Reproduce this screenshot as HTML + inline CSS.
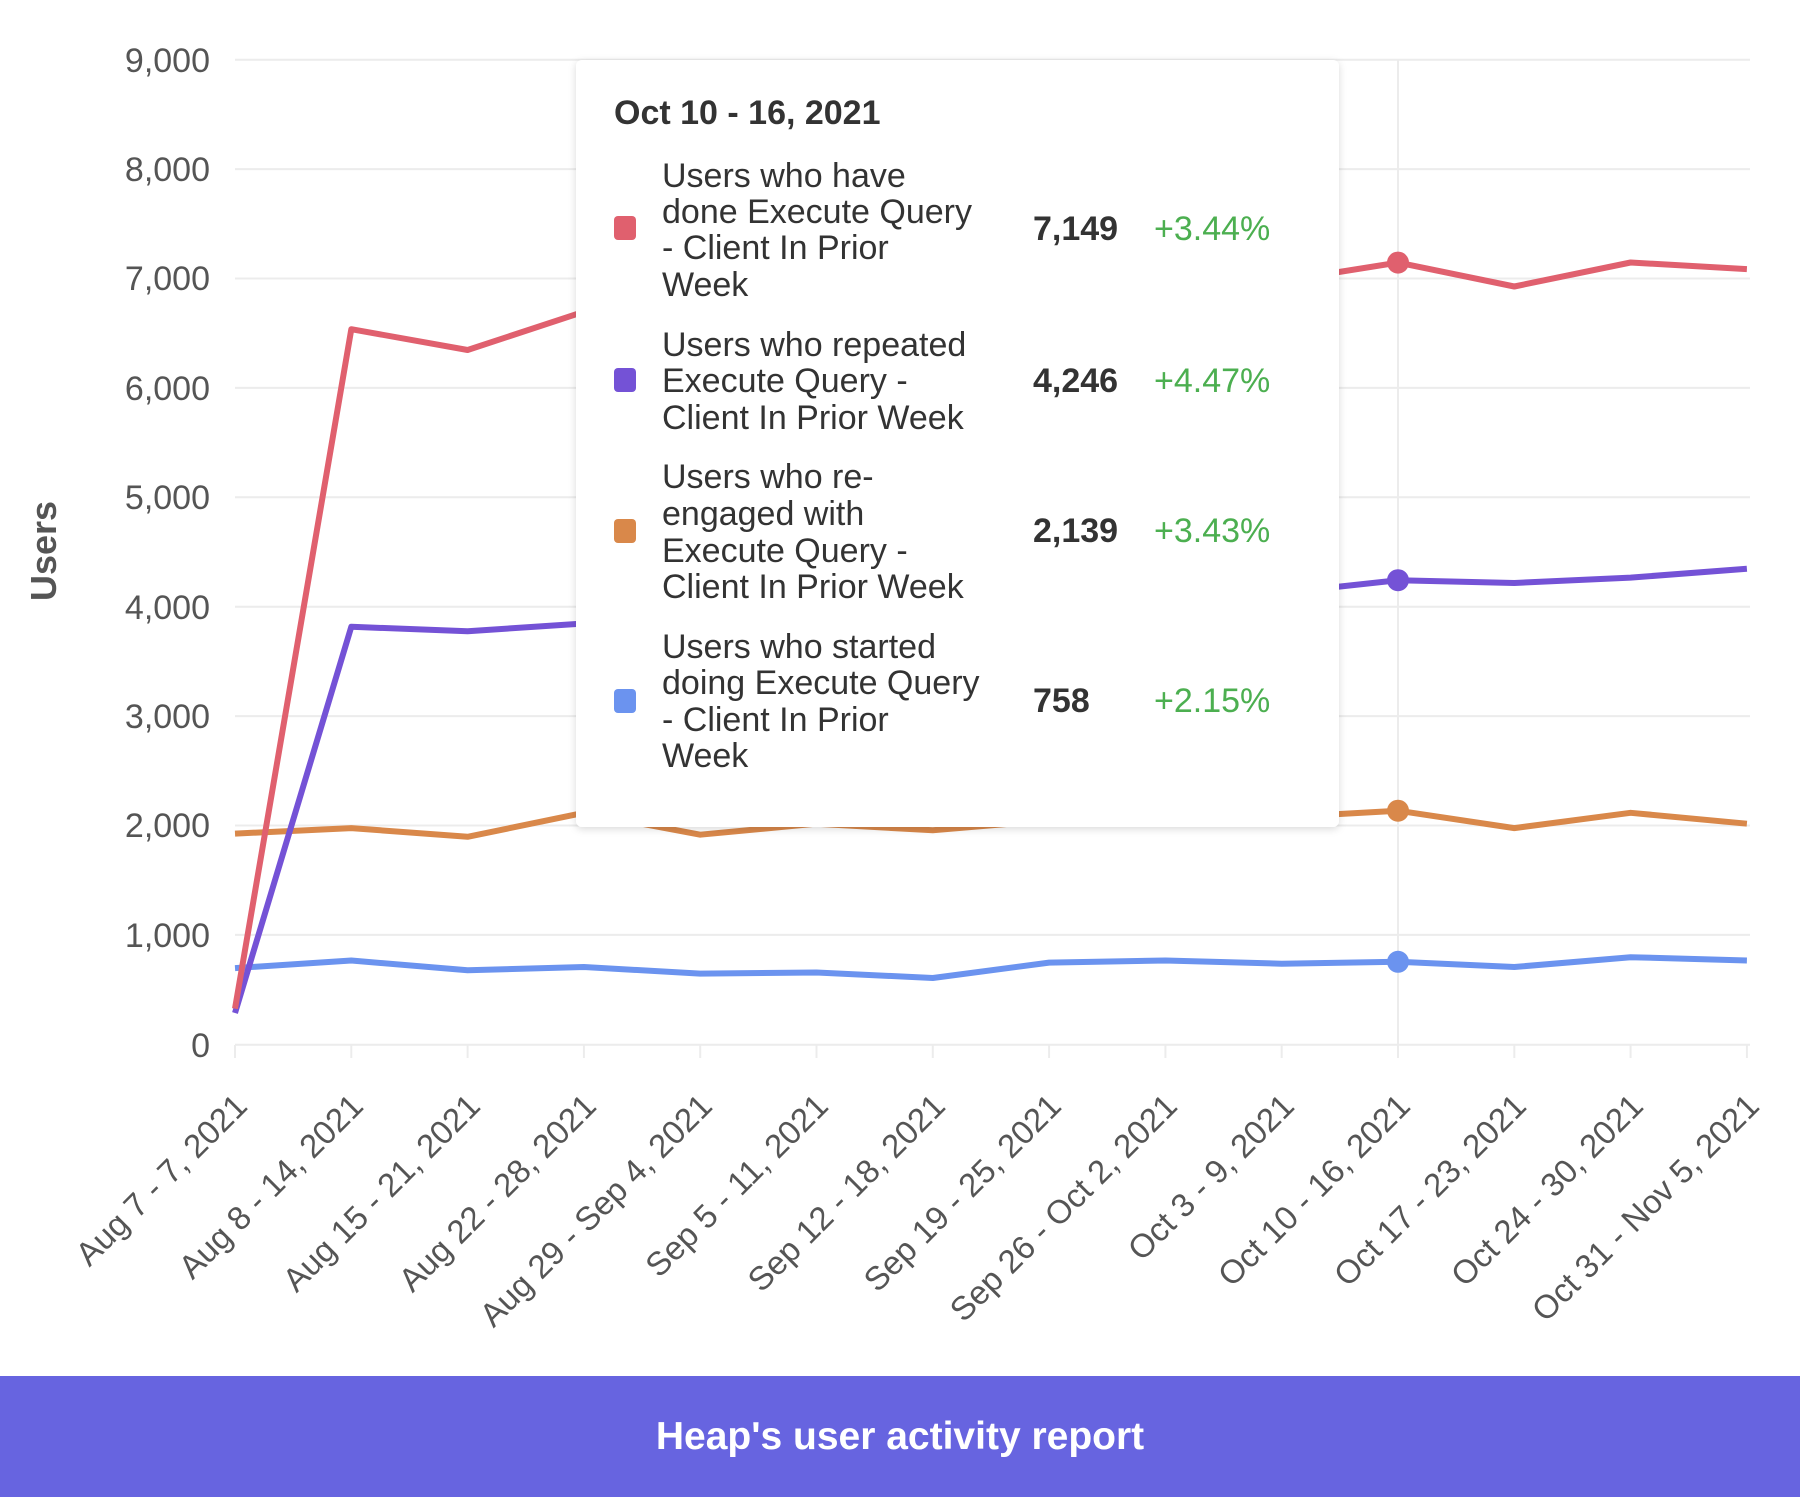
<!DOCTYPE html>
<html><head><meta charset="utf-8"><style>
html,body{margin:0;padding:0;background:#fff;width:1800px;height:1497px;overflow:hidden}
svg text{font-family:"Liberation Sans",sans-serif}
.banner{position:absolute;left:0;top:1376px;width:1800px;height:121px;background:#6764e0;color:#fff;font:bold 39px "Liberation Sans",sans-serif;text-align:center;line-height:121px}
</style></head><body>
<svg width="1800" height="1376" style="position:absolute;left:0;top:0">
<g stroke="#ececec" stroke-width="2">
<line x1="235" y1="59.7" x2="1750" y2="59.7"/><line x1="235" y1="169.1" x2="1750" y2="169.1"/><line x1="235" y1="278.5" x2="1750" y2="278.5"/><line x1="235" y1="387.9" x2="1750" y2="387.9"/><line x1="235" y1="497.3" x2="1750" y2="497.3"/><line x1="235" y1="606.7" x2="1750" y2="606.7"/><line x1="235" y1="716.1" x2="1750" y2="716.1"/><line x1="235" y1="825.5" x2="1750" y2="825.5"/><line x1="235" y1="934.9" x2="1750" y2="934.9"/><line x1="235" y1="1044.7" x2="1750" y2="1044.7"/>
<line x1="1398" y1="59.7" x2="1398" y2="1058"/>
<line x1="235" y1="1045" x2="235" y2="1058"/><line x1="351.3" y1="1045" x2="351.3" y2="1058"/><line x1="467.6" y1="1045" x2="467.6" y2="1058"/><line x1="583.9" y1="1045" x2="583.9" y2="1058"/><line x1="700.2" y1="1045" x2="700.2" y2="1058"/><line x1="816.5" y1="1045" x2="816.5" y2="1058"/><line x1="932.8" y1="1045" x2="932.8" y2="1058"/><line x1="1049.1" y1="1045" x2="1049.1" y2="1058"/><line x1="1165.4" y1="1045" x2="1165.4" y2="1058"/><line x1="1281.7" y1="1045" x2="1281.7" y2="1058"/><line x1="1514.3" y1="1045" x2="1514.3" y2="1058"/><line x1="1630.6" y1="1045" x2="1630.6" y2="1058"/><line x1="1746.9" y1="1045" x2="1746.9" y2="1058"/>
</g>
<g font-size="34" fill="#555" text-anchor="end">
<text x="210" y="72">9,000</text><text x="210" y="181">8,000</text><text x="210" y="290">7,000</text><text x="210" y="400">6,000</text><text x="210" y="509">5,000</text><text x="210" y="619">4,000</text><text x="210" y="728">3,000</text><text x="210" y="837">2,000</text><text x="210" y="947">1,000</text><text x="210" y="1057">0</text>
</g>
<text transform="translate(56,551) rotate(-90)" text-anchor="middle" font-size="36" font-weight="bold" fill="#555">Users</text>
<g fill="none" stroke-width="6" stroke-linejoin="round">
<polyline stroke="#6b93ef" points="235,968.1 351.3,960.5 467.6,970.3 583.9,967 700.2,973.6 816.5,972.5 932.8,978 1049.1,962.6 1165.4,960.5 1281.7,963.7 1398,961.8 1514.3,967 1630.6,957.2 1746.9,960.5"/>
<polyline stroke="#d9884a" points="235,833.6 351.3,828.1 467.6,836.8 583.9,812.8 700.2,834.7 816.5,823.7 932.8,830.3 1049.1,820.4 1165.4,822.6 1281.7,817.2 1398,810.7 1514.3,828.1 1630.6,812.8 1746.9,823.7"/>
<polyline stroke="#7452d6" points="235,1013 351.3,626.8 467.6,631.2 583.9,623.5 700.2,618 816.5,612.6 932.8,612.6 1049.1,601.6 1165.4,596.2 1281.7,592.9 1398,580.2 1514.3,583 1630.6,577.6 1746.9,568.8"/>
<polyline stroke="#e0606e" points="235,1008.6 351.3,329.2 467.6,350 583.9,311.7 700.2,289.8 816.5,284.4 932.8,289.8 1049.1,278.9 1165.4,278.9 1281.7,281.1 1398,262.6 1514.3,286.5 1630.6,262.5 1746.9,269.1"/>
</g>
<circle cx="1398" cy="262.6" r="11" fill="#e0606e"/><circle cx="1398" cy="580.2" r="11" fill="#7452d6"/><circle cx="1398" cy="810.7" r="11" fill="#d9884a"/><circle cx="1398" cy="961.8" r="11" fill="#6b93ef"/>
<g font-size="33" fill="#555" text-anchor="end">
<text transform="translate(249,1108) rotate(-45)">Aug 7 - 7, 2021</text>
<text transform="translate(365,1108) rotate(-45)">Aug 8 - 14, 2021</text>
<text transform="translate(482,1108) rotate(-45)">Aug 15 - 21, 2021</text>
<text transform="translate(598,1108) rotate(-45)">Aug 22 - 28, 2021</text>
<text transform="translate(714,1108) rotate(-45)">Aug 29 - Sep 4, 2021</text>
<text transform="translate(830,1108) rotate(-45)">Sep 5 - 11, 2021</text>
<text transform="translate(947,1108) rotate(-45)">Sep 12 - 18, 2021</text>
<text transform="translate(1063,1108) rotate(-45)">Sep 19 - 25, 2021</text>
<text transform="translate(1179,1108) rotate(-45)">Sep 26 - Oct 2, 2021</text>
<text transform="translate(1296,1108) rotate(-45)">Oct 3 - 9, 2021</text>
<text transform="translate(1412,1108) rotate(-45)">Oct 10 - 16, 2021</text>
<text transform="translate(1528,1108) rotate(-45)">Oct 17 - 23, 2021</text>
<text transform="translate(1645,1108) rotate(-45)">Oct 24 - 30, 2021</text>
<text transform="translate(1761,1108) rotate(-45)">Oct 31 - Nov 5, 2021</text>
</g>
<defs><filter id="sh" x="-5%" y="-5%" width="110%" height="110%"><feDropShadow dx="0" dy="2" stdDeviation="4" flood-color="#000" flood-opacity="0.15"/></filter></defs>
<rect x="576" y="60" width="763" height="767" rx="6" fill="#fff" filter="url(#sh)"/>
<text x="614" y="124" font-size="34" font-weight="bold" fill="#333">Oct 10 - 16, 2021</text>
<rect x="614" y="216" width="22" height="24" rx="4" fill="#e0606e"/>
<rect x="614" y="368" width="22" height="24" rx="4" fill="#7452d6"/>
<rect x="614" y="519" width="22" height="24" rx="4" fill="#d9884a"/>
<rect x="614" y="689" width="22" height="24" rx="4" fill="#6b93ef"/>
<g font-size="34" fill="#333">
<text x="662" y="187">Users who have</text><text x="662" y="223">done Execute Query</text><text x="662" y="259">- Client In Prior</text><text x="662" y="296">Week</text>
<text x="662" y="356">Users who repeated</text><text x="662" y="392">Execute Query -</text><text x="662" y="429">Client In Prior Week</text>
<text x="662" y="488">Users who re-</text><text x="662" y="525">engaged with</text><text x="662" y="562">Execute Query -</text><text x="662" y="598">Client In Prior Week</text>
<text x="662" y="658">Users who started</text><text x="662" y="694">doing Execute Query</text><text x="662" y="731">- Client In Prior</text><text x="662" y="767">Week</text>
</g>
<g font-size="34" font-weight="bold" fill="#333">
<text x="1033" y="240">7,149</text><text x="1033" y="392">4,246</text><text x="1033" y="542">2,139</text><text x="1033" y="712">758</text>
</g>
<g font-size="34" fill="#4caf50">
<text x="1154" y="240">+3.44%</text><text x="1154" y="392">+4.47%</text><text x="1154" y="542">+3.43%</text><text x="1154" y="712">+2.15%</text>
</g>
</svg>
<div class="banner">Heap's user activity report</div>
</body></html>
